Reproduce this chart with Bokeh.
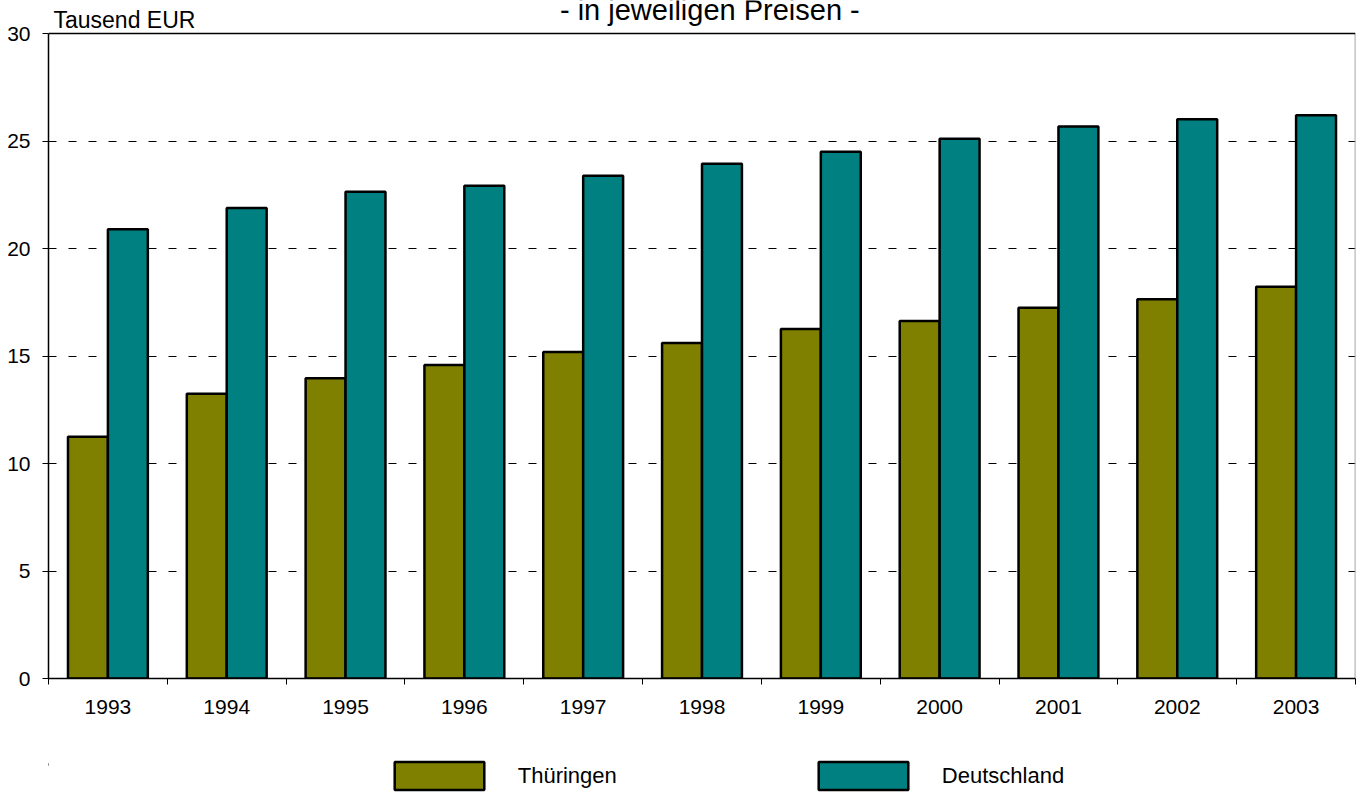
from bokeh.plotting import figure
from bokeh.models import (ColumnDataSource, Range1d, FixedTicker, Span,
                          Legend, LegendItem)
from bokeh.core.properties import value
from bokeh.layouts import column
from bokeh.transform import dodge
from bokeh.embed import file_html
from bokeh.resources import INLINE
import numpy as np

years = ["1993", "1994", "1995", "1996", "1997", "1998", "1999", "2000", "2001", "2002", "2003"]
thueringen = [11.25, 13.24, 13.97, 14.58, 15.19, 15.61, 16.26, 16.63, 17.24, 17.64, 18.22]
deutschland = [20.89, 21.88, 22.64, 22.92, 23.38, 23.94, 24.50, 25.11, 25.67, 26.01, 26.20]
series_names = ["Thüringen", "Deutschland"]
y_ticks = [0, 5, 10, 15, 20, 25, 30]
unit_label = "Tausend EUR"
subtitle = "- in jeweiligen Preisen  -"

FONT = "Liberation Sans"
OLIVE = "#808000"
TEAL = "#008080"
W = 1363
YMAX = 30
# frame reaches the canvas top so that the texts above the value 30 are drawn (and cut) there
y_end = YMAX * 678 / 645

n = len(years)
pos = np.arange(n) + 0.5
src = ColumnDataSource(dict(x=pos, th=thueringen, de=deutschland))

p = figure(width=W, height=735, output_backend="svg", toolbar_location=None,
           x_range=Range1d(0, n), y_range=Range1d(0, y_end),
           min_border_left=48, min_border_right=8, min_border_top=0, min_border_bottom=57)
p.outline_line_color = None
p.background_fill_color = "white"
p.border_fill_color = "white"

bw = 0.336
p.vbar(x=dodge("x", -bw / 2), top="th", width=bw, source=src,
       fill_color=OLIVE, line_color="black", line_width=2.5)
p.vbar(x=dodge("x", bw / 2), top="de", width=bw, source=src,
       fill_color=TEAL, line_color="black", line_width=2.5)

# x axis: labels at category centres, tick marks at category boundaries
p.xaxis.ticker = FixedTicker(ticks=list(pos), minor_ticks=list(range(n + 1)))
p.xaxis.major_label_overrides = {float(v): y for v, y in zip(pos, years)}
p.xaxis.major_tick_in = 0
p.xaxis.major_tick_out = 0
p.xaxis.minor_tick_in = 0
p.xaxis.minor_tick_out = 6
p.xaxis.minor_tick_line_color = "black"
p.xaxis.axis_line_color = "black"
p.xaxis.axis_line_width = 1.5
p.xaxis.major_label_text_font = FONT
p.xaxis.major_label_text_font_size = "21px"
p.xaxis.major_label_text_color = "black"
p.xaxis.major_label_standoff = 15

p.yaxis.ticker = FixedTicker(ticks=y_ticks, minor_ticks=[])
p.yaxis.bounds = (0, YMAX)
p.yaxis.major_tick_in = 0
p.yaxis.major_tick_out = 6
p.yaxis.major_tick_line_color = "black"
p.yaxis.axis_line_color = "black"
p.yaxis.axis_line_width = 1.5
p.yaxis.major_label_text_font = FONT
p.yaxis.major_label_text_font_size = "21px"
p.yaxis.major_label_text_color = "black"
p.yaxis.major_label_standoff = 12

p.xgrid.grid_line_color = None
p.ygrid.grid_line_color = "black"
p.ygrid.grid_line_dash = "8 12"
p.ygrid.grid_line_width = 1
p.ygrid.ticker = FixedTicker(ticks=y_ticks[1:-1])

# frame edges: black top, grey right
p.add_layout(Span(location=YMAX, dimension="width", line_color="black", line_width=1.5))
p.segment(x0=[n - 0.001], y0=[0], x1=[n - 0.001], y1=[YMAX], line_color="#999999", line_width=1.5)

# unit label and (cut-off) subtitle
p.text(x=[0.042], y=[30.62], text=[unit_label], text_font=value(FONT),
       text_font_size="23px", text_color="black", text_baseline="alphabetic")
p.text(x=[5.60], y=[31.10], text=[subtitle], text_font=value(FONT),
       text_font_size="29px", text_color="black", text_align="center",
       text_baseline="alphabetic")

# legend strip below the chart
lf = figure(width=W, height=58, output_backend="svg", toolbar_location=None,
            x_axis_type=None, y_axis_type=None, x_range=Range1d(0, 1), y_range=Range1d(0, 1),
            min_border=0)
lf.outline_line_color = None
lf.border_fill_color = "white"
lf.xgrid.visible = False
lf.ygrid.visible = False
dummy = ColumnDataSource(dict(x=[-10.0], top=[0.5]))  # off-range, only feeds the legend swatches
l1 = lf.vbar(x="x", top="top", bottom=0.5, width=0.1, source=dummy,
             fill_color=OLIVE, line_color="black", line_width=2.5)
l2 = lf.vbar(x="x", top="top", bottom=0.5, width=0.1, source=dummy,
             fill_color=TEAL, line_color="black", line_width=2.5)
lg = Legend(items=[LegendItem(label=series_names[0], renderers=[l1]),
                   LegendItem(label=series_names[1], renderers=[l2])],
            location=(334.75, 0), orientation="horizontal",
            glyph_width=112, glyph_height=35, label_standoff=23,
            padding=0, margin=0, spacing=190,
            border_line_color=None, background_fill_alpha=0,
            label_text_font=FONT, label_text_font_size="22px",
            label_text_color="black", label_height=35)
lf.add_layout(lg, "center")

open("out.html", "w").write(file_html(column(p, lf, spacing=0), INLINE))
